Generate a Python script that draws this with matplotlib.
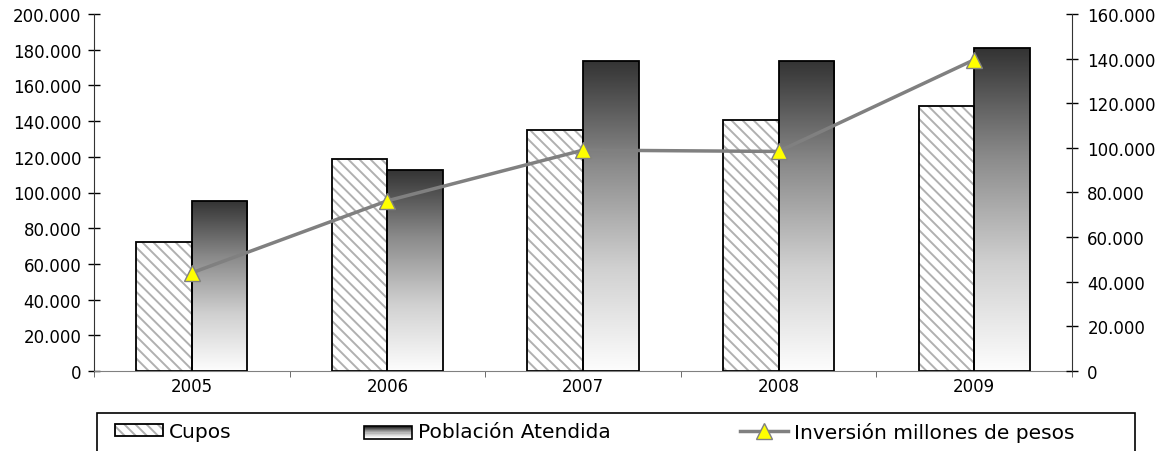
import matplotlib
matplotlib.use("Agg")
import matplotlib.pyplot as plt
import numpy as np
from matplotlib.patches import Rectangle
from matplotlib.colors import LinearSegmentedColormap
from matplotlib.ticker import FuncFormatter, MultipleLocator, FixedLocator
from matplotlib.legend_handler import HandlerTuple

# values
years = ["2005", "2006", "2007", "2008", "2009"]
cupos = [72500, 118800, 135000, 140500, 148700]
poblacion = [95300, 112800, 173800, 173800, 180900]
inversion = [44000, 76300, 99000, 98400, 139500]
labels = ["Cupos", "Población Atendida", "Inversión millones de pesos"]

plt.rcParams["font.family"] = ["DejaVu Sans"]
plt.rcParams["hatch.color"] = "#b0b0b0"
plt.rcParams["hatch.linewidth"] = 1.4

W, H = 1166, 452
fig = plt.figure(figsize=(W / 100, H / 100), dpi=100)
ax = fig.add_axes([94 / W, 1 - 372 / H, (1072 - 94) / W, (372 - 15) / H])

grad = LinearSegmentedColormap.from_list("grad", ["#fdfdfd", "#d0d0d0", "#8a8a8a", "#333333"])

x = np.arange(len(years))
bw = 0.284

# Cupos: hatched bars, outline drawn separately so hatch stays gray
hb = ax.bar(x - bw / 2, cupos, bw, color="white", hatch="\\\\\\", linewidth=0, zorder=2)
ob = ax.bar(x - bw / 2, cupos, bw, fill=False, edgecolor="black", linewidth=1.3, zorder=3)

# Poblacion: gradient bars
pb = ax.bar(x + bw / 2, poblacion, bw, fill=False, edgecolor="black", linewidth=1.3, zorder=3)
gimg = np.linspace(1, 0, 256).reshape(-1, 1)
for rect in pb:
    x0, y0 = rect.get_x(), rect.get_y()
    im = ax.imshow(gimg, cmap=grad, vmin=0, vmax=1, aspect="auto",
                   extent=[x0, x0 + rect.get_width(), y0, y0 + rect.get_height()], zorder=2)
    im.set_clip_path(rect)

ax.set_xlim(-0.5, len(years) - 0.5)
ax.set_ylim(0, 200000)

fmt = FuncFormatter(lambda v, p: f"{v:,.0f}".replace(",", "."))
ax.yaxis.set_major_locator(MultipleLocator(20000))
ax.yaxis.set_major_formatter(fmt)
ax.set_xticks(x)
ax.set_xticklabels(years)
ax.xaxis.set_minor_locator(FixedLocator(np.arange(-0.5, len(years), 1)))
ax.tick_params(axis="x", which="major", length=0, pad=4, labelsize=12)
ax.tick_params(axis="x", which="minor", length=4, direction="out", color="#555555")
ax.tick_params(axis="y", direction="inout", length=8, width=1, pad=5, labelsize=12)

ax.spines["top"].set_visible(False)
ax.spines["right"].set_visible(False)
ax.spines["left"].set_color("#333333")
ax.spines["bottom"].set_color("#808080")

ax2 = ax.twinx()
ln, = ax2.plot(x, inversion, color="#808080", linewidth=2.5, marker="^", markersize=11,
               markerfacecolor="#ffff00", markeredgecolor="#808080", markeredgewidth=1, zorder=5)
ax2.set_ylim(0, 160000)
ax2.yaxis.set_major_locator(MultipleLocator(20000))
ax2.yaxis.set_major_formatter(fmt)
ax2.tick_params(axis="y", direction="inout", length=8, width=1, pad=7, labelsize=12)
for s in ["top", "left", "bottom"]:
    ax2.spines[s].set_visible(False)
ax2.spines["right"].set_color("#333333")


class GradHandler:
    def legend_artist(self, legend, orig_handle, fontsize, handlebox):
        x0, y0 = handlebox.xdescent, handlebox.ydescent
        w, h = handlebox.width, handlebox.height
        n = 10
        for i in range(n):
            r = Rectangle([x0, y0 + h * i / n], w, h / n, facecolor=grad(i / (n - 1)),
                          edgecolor="none", transform=handlebox.get_transform())
            handlebox.add_artist(r)
        outline = Rectangle([x0, y0], w, h, fill=False, edgecolor="black", linewidth=1.2,
                            transform=handlebox.get_transform())
        handlebox.add_artist(outline)
        return outline


# one legend per entry, placed like the fixed columns of the original
handles = [(hb[0], ob[0]), "grad", ln]
xpos = [115, 364, 740]
for hnd, lab, xp in zip(handles, labels, xpos):
    fig.legend([hnd], [lab],
               handler_map={str: GradHandler(), tuple: HandlerTuple(ndivide=1)},
               loc="center left", bbox_to_anchor=(xp / W, 1 - 433 / H),
               frameon=False, fontsize=14.5, handlelength=2.4, handleheight=0.55,
               handletextpad=0.3, borderpad=0, borderaxespad=0)

# legend frame
fig.patches.append(Rectangle((97 / W, -0.01), (1135 - 97) / W, (452 - 414) / H + 0.01,
                             transform=fig.transFigure, fill=False, edgecolor="black",
                             linewidth=1.2))

fig.savefig("out.png", dpi=100)
